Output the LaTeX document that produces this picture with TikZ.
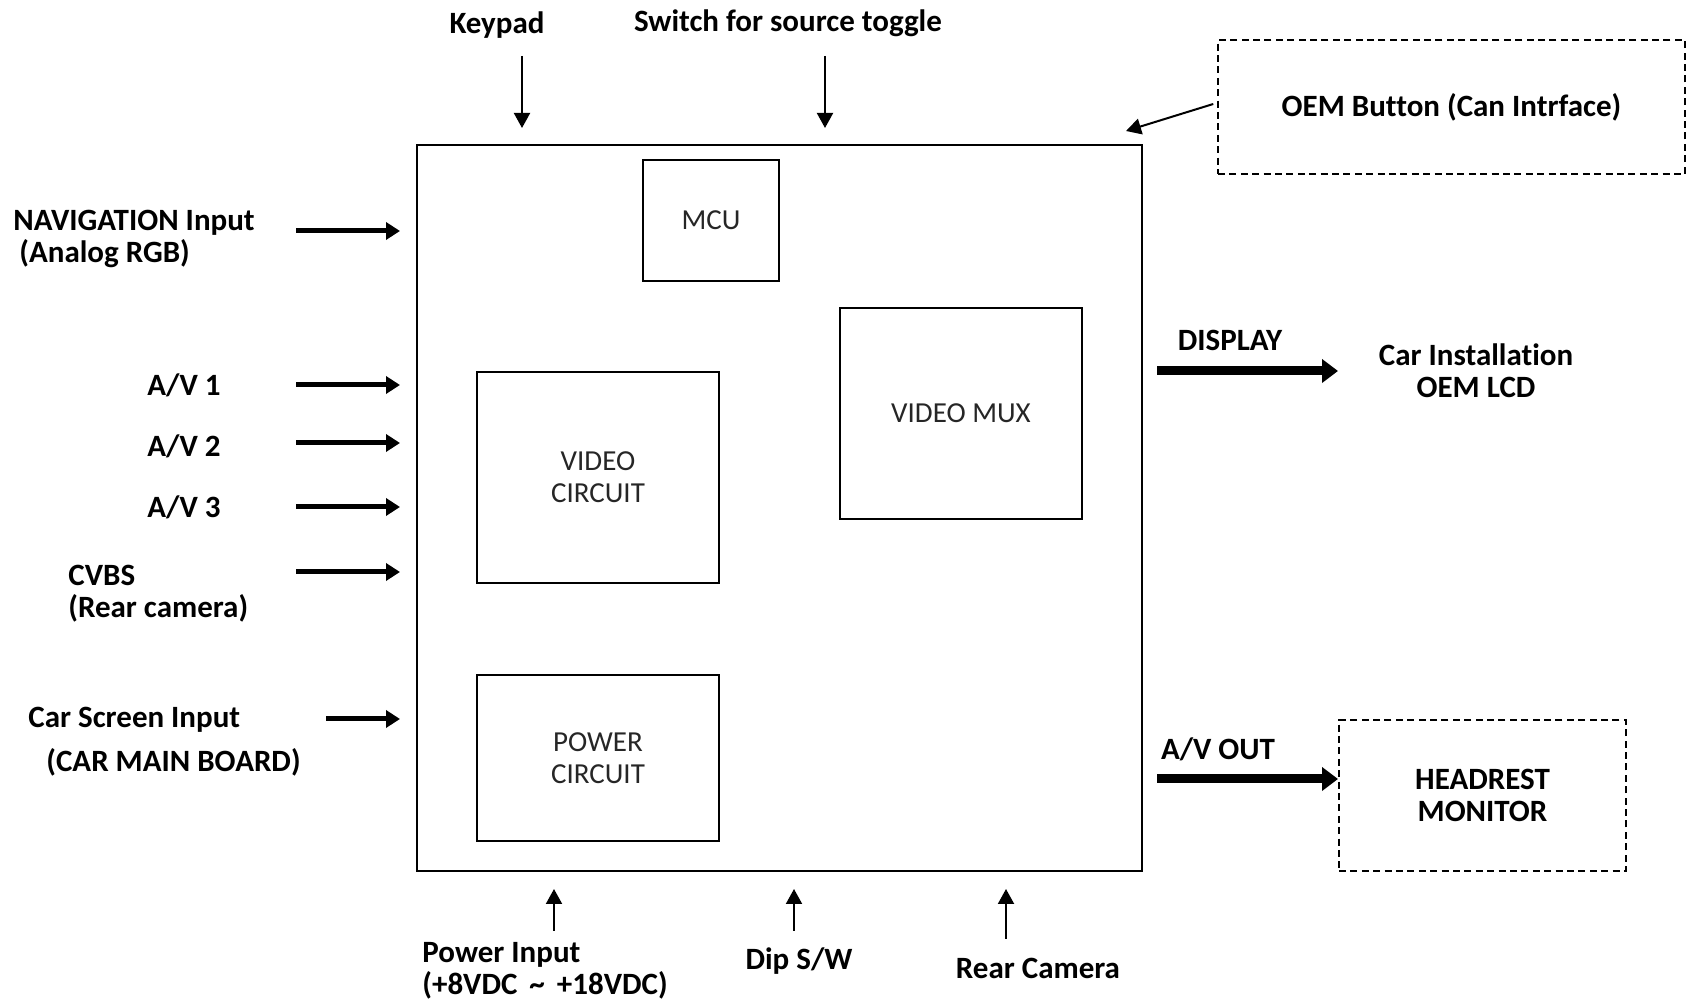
\documentclass[tikz,border=0pt]{standalone}
\usepackage{fontspec}
\setmainfont{Carlito}[Ligatures=NoCommon]
\usepackage{tikz}
\usetikzlibrary{arrows.meta,positioning,calc}

\tikzset{
  lbl/.style={font=\bfseries\fontsize{15.5}{16}\selectfont, inner sep=0pt, yshift=-1.5pt},
  blk/.style={draw, line width=0.8pt, font=\fontsize{14.5}{16}\selectfont, text=black!85, align=center, inner sep=0pt},
  extbox/.style={draw, line width=0.75pt, dash pattern=on 3.5pt off 2.2pt, align=center, inner sep=0pt, font=\bfseries\fontsize{15.5}{16}\selectfont},
  inarrow/.style={line width=2.5pt, -{Triangle[length=7pt,width=8.5pt]}},
  outarrow/.style={line width=4.5pt, -{Triangle[length=8pt,width=11.5pt]}},
  thinarrow/.style={line width=1pt, -{Triangle[length=7.5pt,width=8pt]}}
}

\begin{document}
\begin{tikzpicture}[x=0.5pt, y=-0.5pt]
\useasboundingbox (0,0) rectangle (1688,1004);
% main unit and its blocks
\node[draw, line width=1pt, minimum width=362.5pt, minimum height=363pt] (main) at (779.5,508) {};
\node[blk, minimum width=68pt, minimum height=60.5pt] (mcu) at (711,220.5) {MCU};
\node[blk, minimum width=121pt, minimum height=105.5pt] (mux) at (961,413.5) {VIDEO MUX};
\node[blk, minimum width=121pt, minimum height=105.5pt] (vcirc) at (598,477.5) {VIDEO\\CIRCUIT};
\node[blk, minimum width=121pt, minimum height=83pt] (pcirc) at (598,758) {POWER\\CIRCUIT};
% external dashed boxes
\node[extbox, minimum width=233.5pt, minimum height=67pt] (oem) at (1451.5,107) {OEM Button (Can Intrface)};
\node[extbox, minimum width=143.5pt, minimum height=75.5pt] (head) at (1482.5,795.5) {HEADREST\\MONITOR};
% top labels
\node[lbl] (keypad) at (497,22) {Keypad};
\node[lbl] (switch) at (788,20) {Switch for source toggle};
% left labels
\node[lbl, anchor=west, align=left] (nav) at (13,236) {NAVIGATION Input\\\hspace{3pt}(Analog RGB)};
\node[lbl] (av1) at (184,382) {A/V 1};
\node[lbl] (av2) at (184,443) {A/V 2};
\node[lbl] (av3) at (184,504) {A/V 3};
\node[lbl, anchor=west, align=left] (cvbs) at (68,591) {CVBS\\(Rear camera)};
\node[lbl, anchor=west] (carscr) at (28,717) {Car Screen Input};
\node[lbl, anchor=west] (carboard) at (46,759) {(CAR MAIN BOARD)};
% right labels
\node[lbl] (display) at (1230,337) {DISPLAY};
\node[lbl, align=center] (lcd) at (1476,368) {Car Installation\\OEM LCD};
\node[lbl] (avout) at (1218,746) {A/V OUT};
% bottom labels
\node[lbl, anchor=west, align=left] (power) at (422,968) {Power Input\\(+8VDC\hspace{6pt}\textasciitilde\hspace{6pt}+18VDC)};
\node[lbl] (dip) at (799,958) {Dip S/W};
\node[lbl] (rearcam) at (1038,965) {Rear Camera};
% arrow end points
\foreach \n/\y in {nav/231, av1/385, av2/443, av3/507, cvbs/572}{
  \coordinate (\n-s) at (296,\y);
  \coordinate (\n-e) at (400,\y);
}
\coordinate (carscr-s) at (326,719);
\coordinate (carscr-e) at (400,719);
\coordinate (keypad-s) at (522,56);
\coordinate (keypad-e) at (522,128);
\coordinate (switch-s) at (825,56);
\coordinate (switch-e) at (825,128);
\coordinate (oem-e) at (1126,131);
\coordinate (power-s) at (554,931);
\coordinate (power-e) at (554,889);
\coordinate (dip-s) at (794,931);
\coordinate (dip-e) at (794,889);
\coordinate (rear-s) at (1006,939);
\coordinate (rear-e) at (1006,889);
\coordinate (display-s) at (1157,371);
\coordinate (display-e) at (1338,371);
\coordinate (avout-s) at (1157,779);
\coordinate (avout-e) at (1338,779);
% inputs
\foreach \n in {nav, av1, av2, av3, cvbs, carscr}
  \draw[inarrow] (\n-s) -- (\n-e);
\foreach \n in {keypad, switch, power, dip, rear}
  \draw[thinarrow] (\n-s) -- (\n-e);
\draw[thinarrow] ($(oem.west)+(-4,-3)$) -- (oem-e);
% outputs
\draw[outarrow] (display-s) -- (display-e);
\draw[outarrow] (avout-s) -- (avout-e);
\end{tikzpicture}
\end{document}
